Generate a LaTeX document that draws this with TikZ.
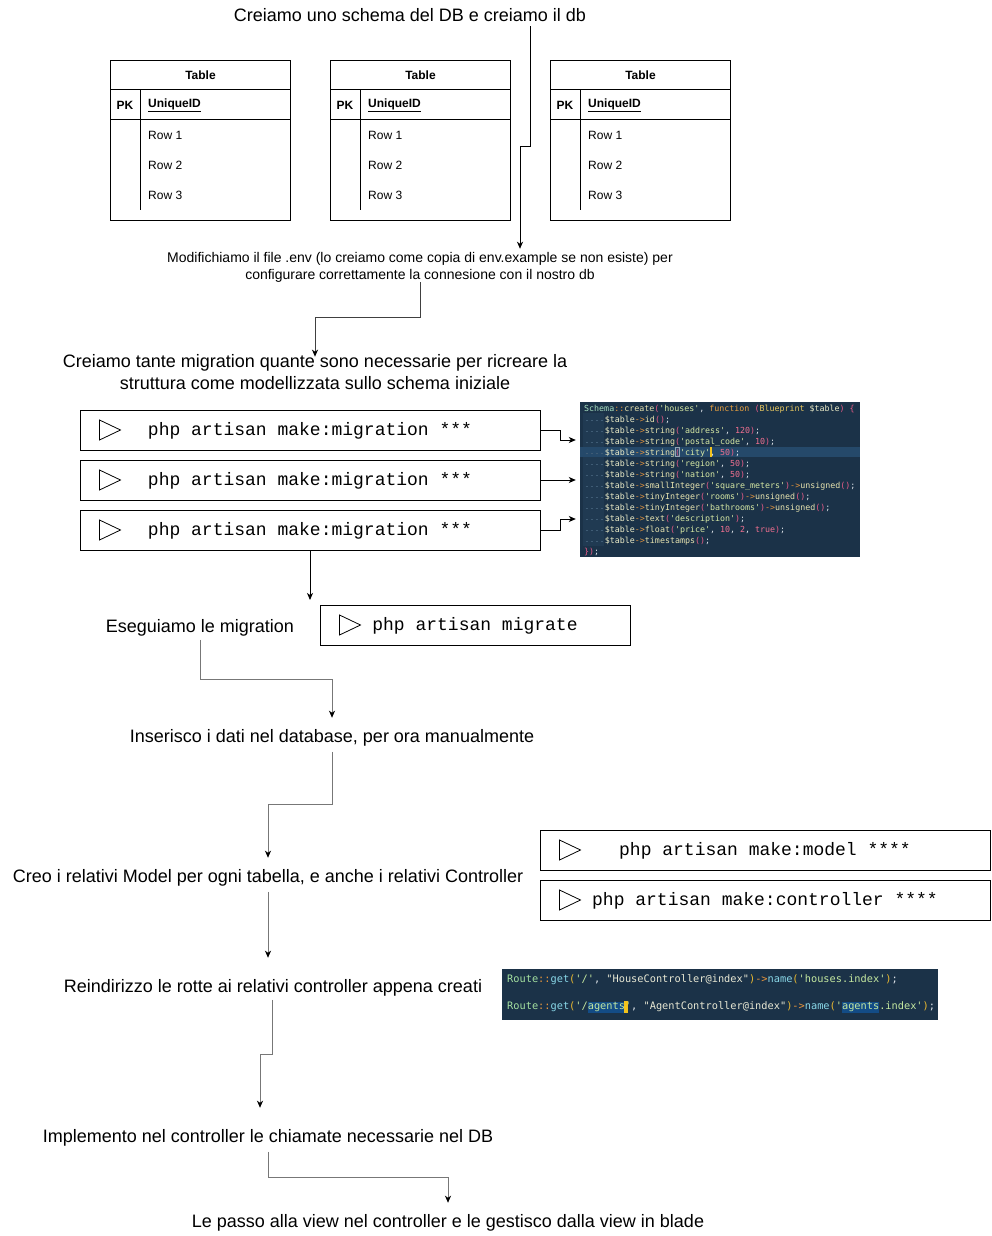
\documentclass[tikz,border=0pt]{standalone}
\usepackage{fontspec}
\setmainfont{Liberation Sans}
\setmonofont{DejaVu Sans Mono}
\newfontfamily\cmdfont{Liberation Mono}
\usetikzlibrary{arrows.meta,calc}

% editor palette
\definecolor{codebg}{HTML}{1B3248}
\definecolor{codegut}{HTML}{203A52}
\definecolor{codehl}{HTML}{25496A}
\definecolor{guide}{HTML}{3F5C75}
\definecolor{ccls}{HTML}{A8E0C0}
\definecolor{cop}{HTML}{E8963C}
\definecolor{cfn}{HTML}{E8E4B0}
\definecolor{cpar}{HTML}{E85C88}
\definecolor{cstr}{HTML}{D6E8A4}
\definecolor{ckw}{HTML}{E8A040}
\definecolor{cbp}{HTML}{E8C860}
\definecolor{cvar}{HTML}{ECECC8}
\definecolor{cnum}{HTML}{F07090}
\definecolor{cpl}{HTML}{DCE2E8}
\definecolor{cursor}{HTML}{F2C21C}
\definecolor{rcls}{HTML}{A4E0A0}
\definecolor{rfn}{HTML}{8AD8E8}
\definecolor{rpar}{HTML}{E8B830}
\definecolor{rstr}{HTML}{C4E8A0}
\definecolor{rq}{HTML}{E8E8D4}
\definecolor{selblue}{HTML}{134C86}
\definecolor{linkgrey}{HTML}{777777}

\newcommand\T[2]{\textcolor{#1}{#2}}
\newcommand\tbl{\T{cvar}{\$table}\T{cop}{->}}
\newcommand\strline[2]{\tbl\T{cfn}{string}\T{cpar}{(}\T{cstr}{'#1'}\T{cpl}{,}\ \T{cnum}{#2}\T{cpar}{)}\T{cpl}{;}}
\newcommand\unsline[2]{\tbl\T{cfn}{#1}\T{cpar}{(}\T{cstr}{'#2'}\T{cpar}{)}\T{cop}{->}\T{cfn}{unsigned}\T{cpar}{()}\T{cpl}{;}}

\begin{document}
\begin{tikzpicture}[x=1pt,y=-1pt,
  lbl/.style={inner sep=0pt, align=center, font=\fontsize{18}{22}\selectfont},
  cmdbox/.style={draw, line width=1pt, minimum height=40pt, inner sep=0pt,
    text height=11pt, text depth=1pt,
    font=\cmdfont\fontsize{18}{18}\selectfont},
  tblbox/.style={draw, line width=1pt, minimum width=180pt, minimum height=160pt,
    inner sep=0pt, anchor=north west},
  tbltxt/.style={inner sep=0pt, font=\fontsize{12}{12}\selectfont},
  codeln/.style={anchor=base west, inner sep=0pt, text=cpl,
    font=\ttfamily\fontsize{8.32}{10}\selectfont},
  routeln/.style={anchor=base west, inner sep=0pt, text=rq,
    font=\ttfamily\fontsize{10.3}{12}\selectfont},
  tip/.style={-{Stealth[length=7pt,width=6pt,inset=2pt,color=black]}},
  conn/.style={line width=1pt, tip},
  gconn/.style={line width=1pt, draw=linkgrey, tip},
  playtri/.style={line width=0.8pt}
]
\useasboundingbox[fill=white] (0,0) rectangle (992,1236);

% ---------- step 1: schema tables ----------
\node[lbl, anchor=base] (t1) at (410,22) {Creiamo uno schema del DB e creiamo il db};
\foreach \tx/\nm in {110/ta,330/tb,550/tc} {
  \node[tblbox] (\nm) at (\tx,60) {};
  \draw[line width=1pt] ($(\nm.north west)+(0,30)$) -- ($(\nm.north east)+(0,30)$);
  \draw[line width=1pt] ($(\nm.north west)+(0,60)$) -- ($(\nm.north east)+(0,60)$);
  \draw[line width=1pt] ($(\nm.north west)+(30,30)$) -- ($(\nm.north west)+(30,150)$);
  \node[tbltxt, font=\bfseries\fontsize{12}{12}\selectfont] (\nm h) at ($(\nm.north)+(0,15)$) {Table};
  \node[tbltxt, font=\bfseries\fontsize{12}{12}\selectfont] (\nm pk) at ($(\nm.north west)+(15,45)$) {PK};
  \node[tbltxt, anchor=west, font=\bfseries\fontsize{12}{12}\selectfont] (\nm id) at ($(\nm.north west)+(38,45)$) {\underline{UniqueID}};
  \node[tbltxt, anchor=west] (\nm r1) at ($(\nm.north west)+(38,75)$) {Row 1};
  \node[tbltxt, anchor=west] (\nm r2) at ($(\nm.north west)+(38,105)$) {Row 2};
  \node[tbltxt, anchor=west] (\nm r3) at ($(\nm.north west)+(38,135)$) {Row 3};
}

% ---------- step 2: .env ----------
\node[inner sep=0pt, align=center, font=\fontsize{14}{17}\selectfont] (env) at (420,267)
  {Modifichiamo il file .env (lo creiamo come copia di env.example se non esiste) per\\
   configurare correttamente la connesione con il nostro db};

% ---------- step 3: migrations ----------
\node[lbl] (mig) at (315,372.5)
  {Creiamo tante migration quante sono necessarie per ricreare la\\
   struttura come modellizzata sullo schema iniziale};
\node[cmdbox, minimum width=460pt] (m1) at (310,430) {php artisan make:migration ***};
\node[cmdbox, minimum width=460pt] (m2) at (310,480) {php artisan make:migration ***};
\node[cmdbox, minimum width=460pt] (m3) at (310,530) {php artisan make:migration ***};

% migration source snippet
\node[fill=codebg, inner sep=0pt, minimum width=280pt, minimum height=155pt] (code) at (720,479.5) {};
\fill[codegut] (583,413) rectangle (604,546);
\fill[codehl] (580,446.7) rectangle (860,457.3);
\foreach \ly in {419,430,441,452,463,474,485,496,507,518,529,540}
  \draw[guide, line width=0.7pt, dash pattern=on 2.2pt off 2.8pt] (585.5,\ly+1) -- (603,\ly+1);
\node[codeln] (c1) at (584,411) {\T{ccls}{Schema}\T{cop}{::}\T{cfn}{create}\T{cpar}{(}\T{cstr}{'houses'}\T{cpl}{,}\ \T{ckw}{function}\ \T{cpar}{(}\T{cbp}{Blueprint}\ \T{cvar}{\$table}\T{cpar}{)}\ \T{cpar}{\{}};
\node[codeln] (c2) at (604.7,422) {\tbl\T{cfn}{id}\T{cpar}{()}\T{cpl}{;}};
\node[codeln] (c3) at (604.7,433) {\strline{address}{120}};
\node[codeln] (c4) at (604.7,444) {\strline{postal\_code}{10}};
\node[codeln] (c5) at (604.7,455) {\strline{city}{50}};
\node[codeln] (c6) at (604.7,466) {\strline{region}{50}};
\node[codeln] (c7) at (604.7,477) {\strline{nation}{50}};
\node[codeln] (c8) at (604.7,488) {\unsline{smallInteger}{square\_meters}};
\node[codeln] (c9) at (604.7,499) {\unsline{tinyInteger}{rooms}};
\node[codeln] (c10) at (604.7,510) {\unsline{tinyInteger}{bathrooms}};
\node[codeln] (c11) at (604.7,521) {\tbl\T{cfn}{text}\T{cpar}{(}\T{cstr}{'description'}\T{cpar}{)}\T{cpl}{;}};
\node[codeln] (c12) at (604.7,532) {\tbl\T{cfn}{float}\T{cpar}{(}\T{cstr}{'price'}\T{cpl}{,}\ \T{cnum}{10}\T{cpl}{,}\ \T{cnum}{2}\T{cpl}{,}\ \T{cnum}{true}\T{cpar}{)}\T{cpl}{;}};
\node[codeln] (c13) at (604.7,543) {\tbl\T{cfn}{timestamps}\T{cpar}{()}\T{cpl}{;}};
\node[codeln] (c14) at (584,554) {\T{cpar}{\})}\T{cpl}{;}};
\draw[cpl!60!codehl, line width=0.5pt] (674.9,447.5) rectangle (679.7,456.5);
\fill[cursor] (710,447) rectangle (712,457);

% ---------- step 4: migrate ----------
\node[lbl, anchor=base] (eseg) at (200,632) {Eseguiamo le migration};
\node[cmdbox, minimum width=310pt] (mgr) at (475,625) {php artisan migrate};

% ---------- step 5..9 ----------
\node[lbl, anchor=base] (ins) at (332,742) {Inserisco i dati nel database, per ora manualmente};
\node[lbl, anchor=base] (creo) at (268,882) {Creo i relativi Model per ogni tabella, e anche i relativi Controller};
\node[cmdbox, minimum width=450pt] (mdl) at (765,850) {php artisan make:model ****};
\node[cmdbox, minimum width=450pt] (ctl) at (765,900) {php artisan make:controller ****};
\node[lbl, anchor=base] (reind) at (273,992) {Reindirizzo le rotte ai relativi controller appena creati};

% routes snippet
\node[fill=codebg, inner sep=0pt, minimum width=436pt, minimum height=51pt] (route) at (720,994.5) {};
\fill[selblue] (587.6,1001.5) rectangle (624.8,1012.5);
\fill[selblue] (841.8,1001.5) rectangle (879,1012.5);
\node[routeln] (r1) at (507,982.5) {\T{rcls}{Route}\T{cop}{::}\T{rfn}{get}\T{rpar}{(}\T{rstr}{'/'}\T{cpl}{,}\ \T{rq}{"HouseController@index"}\T{rpar}{)}\T{cop}{->}\T{rfn}{name}\T{rpar}{(}\T{rstr}{'houses.index'}\T{rpar}{)}\T{cpl}{;}};
\node[routeln] (r2) at (507,1009.5) {\T{rcls}{Route}\T{cop}{::}\T{rfn}{get}\T{rpar}{(}\T{rstr}{'/agents'}\T{cpl}{,}\ \T{rq}{"AgentController@index"}\T{rpar}{)}\T{cop}{->}\T{rfn}{name}\T{rpar}{(}\T{rstr}{'agents.index'}\T{rpar}{)}\T{cpl}{;}};
\fill[cursor] (624.3,1001) rectangle (627.6,1013);

\node[lbl, anchor=base] (impl) at (268,1142) {Implemento nel controller le chiamate necessarie nel DB};
\node[lbl, anchor=base] (passo) at (448,1227) {Le passo alla view nel controller e le gestisco dalla view in blade};

% run markers inside the command boxes
\foreach \b in {m1,m2,m3,mgr,mdl,ctl}
  \draw[playtri] ($(\b.west)+(20,-10)$) -- ++(0,20) -- ++(21,-10) -- cycle;

% ---------- connectors ----------
\draw[conn] ($(t1.south)+(120,4)$) -- ++(0,120) -| ($(env.north)+(100,-3)$);
\draw[conn, draw=black!75] (env.south) -- ++(0,35) -| ($(mig.north)+(0,2)$);
\draw[conn] (m1.east) -- ++(20,0) |- ($(code.west)+(-4,-39.5)$);
\draw[conn] (m2.east) -- ($(m2.east -| code.west)+(-4,0)$);
\draw[conn] (m3.east) -- ++(20,0) |- ($(code.west)+(-4,39.5)$);
\coordinate (migend) at (310,600);
\draw[conn] (m3.south) -- (migend);
\draw[gconn] ($(eseg.south)+(0,4)$) -- ++(0,40) -| ($(ins.north)+(0,-11)$);
\draw[gconn] ($(ins.south)+(0,6)$) -- ++(0,53) -| ($(creo.north)+(0,-11)$);
\draw[gconn] ($(creo.south)+(0,6)$) -- ($(reind.north)+(-5,-21)$);
\draw[gconn] ($(reind.south)+(-1,4)$) -- ++(0,55) -| ($(impl.north)+(-8,-21)$);
\draw[gconn] ($(impl.south)+(0,6)$) -- ++(0,26) -| ($(passo.north)+(0,-11)$);
\end{tikzpicture}
\end{document}
